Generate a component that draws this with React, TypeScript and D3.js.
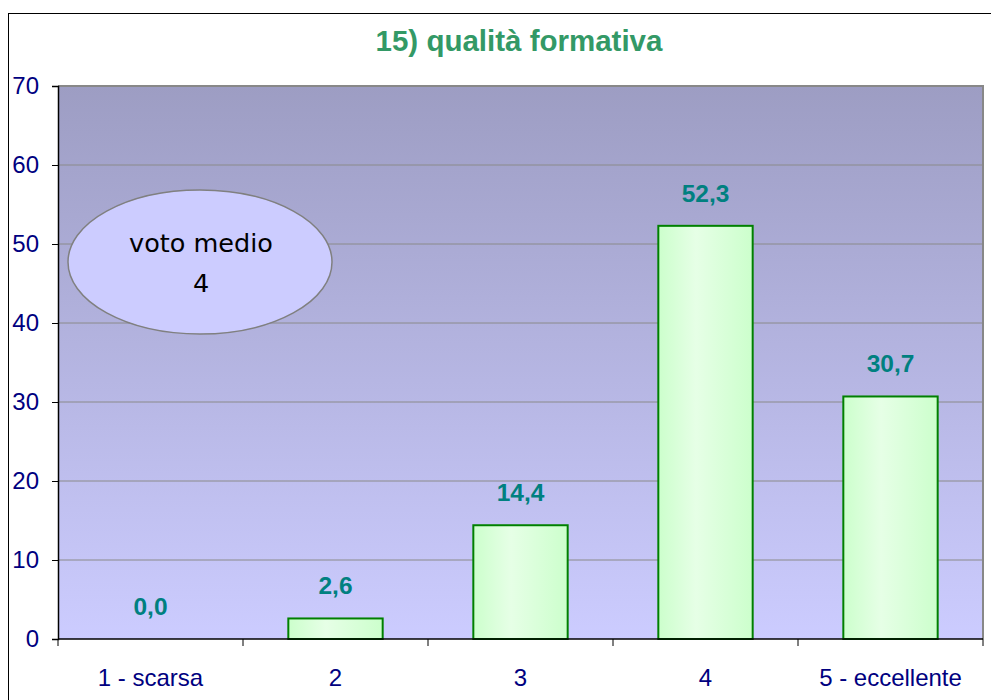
import { useEffect, useRef } from 'react';
import * as d3 from 'd3';

const categories = ['1 - scarsa', '2', '3', '4', '5 - eccellente'];
const values = [0.0, 2.6, 14.4, 52.3, 30.7];
const yTicks = [0, 10, 20, 30, 40, 50, 60, 70];
const title = '15) qualità formativa';
const noteLines = ['voto medio', '4'];

const W = 991;
const H = 700;
const plot = { left: 58, top: 86, right: 983, bottom: 639 };
const font = 'Arial, "Liberation Sans", sans-serif';

export default function App() {
  const svgRef = useRef<SVGSVGElement>(null);

  useEffect(() => {
    const svg = d3.select(svgRef.current);
    svg.selectAll('*').remove();

    const defs = svg.append('defs');
    const bg = defs.append('linearGradient').attr('id', 'bg')
      .attr('x1', 0).attr('y1', 0).attr('x2', 0).attr('y2', 1);
    bg.append('stop').attr('offset', '0%').attr('stop-color', '#9d9dc3');
    bg.append('stop').attr('offset', '100%').attr('stop-color', '#ccccff');

    const barGrad = defs.append('linearGradient').attr('id', 'barGrad')
      .attr('x1', 0).attr('y1', 0).attr('x2', 1).attr('y2', 0);
    barGrad.append('stop').attr('offset', '0%').attr('stop-color', '#ccffcc');
    barGrad.append('stop').attr('offset', '40%').attr('stop-color', '#e6ffe6');
    barGrad.append('stop').attr('offset', '100%').attr('stop-color', '#ccffcc');

    // outer chart frame
    svg.append('rect')
      .attr('x', 8.5).attr('y', 13.5)
      .attr('width', W).attr('height', H)
      .attr('fill', '#ffffff').attr('stroke', '#000000').attr('stroke-width', 1);

    const x = d3.scaleBand<string>()
      .domain(categories)
      .range([plot.left, plot.right])
      .paddingInner(0.49)
      .paddingOuter(0.245);

    const y = d3.scaleLinear().domain([0, 70]).range([plot.bottom, plot.top]);

    // plot area
    svg.append('rect')
      .attr('x', plot.left).attr('y', plot.top)
      .attr('width', plot.right - plot.left).attr('height', plot.bottom - plot.top)
      .attr('fill', 'url(#bg)');

    // grid
    svg.append('g')
      .selectAll('line')
      .data(yTicks.filter((t) => t > 0 && t < 70))
      .join('line')
      .attr('x1', plot.left).attr('x2', plot.right)
      .attr('y1', (d) => y(d)).attr('y2', (d) => y(d))
      .attr('stroke', '#8a8a8a').attr('stroke-width', 1);

    // top/right plot border
    svg.append('path')
      .attr('d', `M${plot.left},${plot.top} H${plot.right} V${plot.bottom}`)
      .attr('fill', 'none').attr('stroke', '#888888').attr('stroke-width', 2);

    const rows = values.map((v, i) => ({ v, c: categories[i] }));

    // bars
    svg.append('g')
      .selectAll('rect')
      .data(rows.filter((d) => d.v > 0))
      .join('rect')
      .attr('x', (d) => x(d.c)!)
      .attr('y', (d) => y(d.v))
      .attr('width', x.bandwidth())
      .attr('height', (d) => y(0) - y(d.v))
      .attr('fill', 'url(#barGrad)')
      .attr('stroke', '#008000')
      .attr('stroke-width', 2);

    // value labels
    svg.append('g')
      .selectAll('text')
      .data(rows)
      .join('text')
      .attr('x', (d) => x(d.c)! + x.bandwidth() / 2)
      .attr('y', (d) => y(d.v) - 24)
      .attr('text-anchor', 'middle')
      .attr('font-family', font)
      .attr('font-weight', 'bold')
      .attr('font-size', 24.5)
      .attr('fill', '#008080')
      .text((d) => d.v.toFixed(1).replace('.', ','));

    // y axis
    const yAxis = svg.append('g')
      .attr('transform', `translate(${plot.left},0)`)
      .call(d3.axisLeft(y).tickValues(yTicks).tickSize(6).tickPadding(10).tickFormat(d3.format('d')));
    yAxis.select('.domain').attr('stroke', '#000000').attr('stroke-width', 1.5);
    yAxis.selectAll('.tick line').attr('stroke', '#000000');
    yAxis.selectAll('text')
      .attr('font-family', font)
      .attr('font-size', 24)
      .attr('fill', '#000080')
      .attr('x', -19);

    // x axis
    const boundaries = d3.range(categories.length + 1)
      .map((i) => plot.left + (i * (plot.right - plot.left)) / categories.length);
    svg.append('line')
      .attr('x1', plot.left).attr('x2', plot.right)
      .attr('y1', plot.bottom).attr('y2', plot.bottom)
      .attr('stroke', '#000000').attr('stroke-width', 1.5);
    svg.append('g')
      .selectAll('line')
      .data(boundaries)
      .join('line')
      .attr('x1', (d) => d).attr('x2', (d) => d)
      .attr('y1', plot.bottom).attr('y2', plot.bottom + 7)
      .attr('stroke', '#000000');
    svg.append('g')
      .selectAll('text')
      .data(categories)
      .join('text')
      .attr('x', (d) => x(d)! + x.bandwidth() / 2)
      .attr('y', 686)
      .attr('text-anchor', 'middle')
      .attr('font-family', font)
      .attr('font-size', 24)
      .attr('fill', '#000080')
      .text((d) => d);

    // title
    svg.append('text')
      .attr('x', 519).attr('y', 51)
      .attr('text-anchor', 'middle')
      .attr('font-family', font)
      .attr('font-weight', 'bold')
      .attr('font-size', 29.5)
      .attr('fill', '#339966')
      .text(title);

    // note ellipse
    svg.append('ellipse')
      .attr('cx', 200).attr('cy', 262).attr('rx', 132).attr('ry', 72)
      .attr('fill', '#ccccff').attr('stroke', '#808080').attr('stroke-width', 1.5);
    svg.append('text')
      .attr('text-anchor', 'middle')
      .attr('font-family', '"Comic Sans MS", "DejaVu Sans", sans-serif')
      .attr('font-size', 25.5)
      .attr('fill', '#000000')
      .selectAll('tspan')
      .data(noteLines)
      .join('tspan')
      .attr('x', 201)
      .attr('y', (_, i) => 252 + i * 40)
      .text((d) => d);
  }, []);

  return (
    <svg
      ref={svgRef}
      width={W}
      height={H}
      style={{ position: 'absolute', left: 0, top: 0, background: '#ffffff' }}
    />
  );
}
